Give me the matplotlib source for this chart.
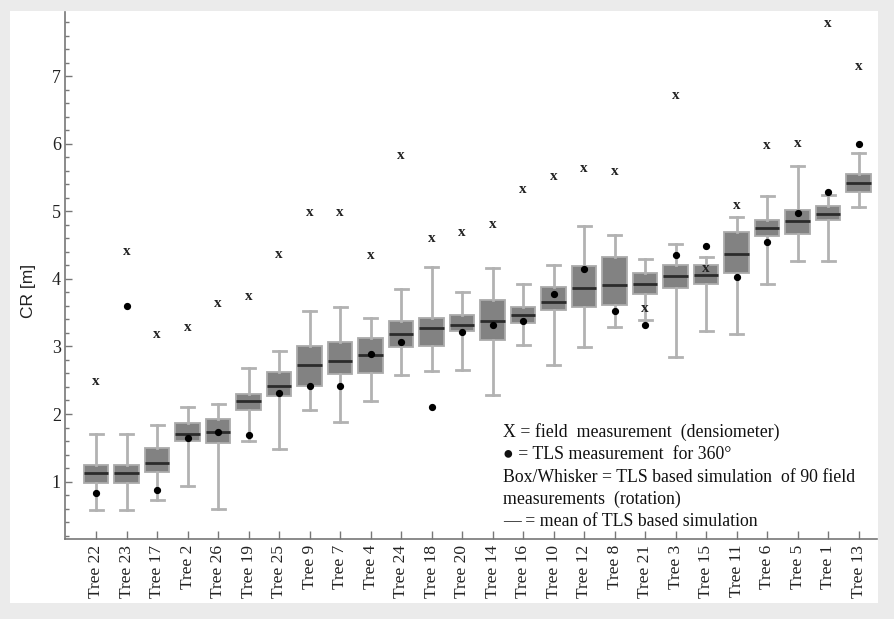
import matplotlib
matplotlib.use("Agg")
import matplotlib.pyplot as plt
from matplotlib.patches import Rectangle
from matplotlib.ticker import MultipleLocator

trees = ["Tree 22", "Tree 23", "Tree 17", "Tree 2", "Tree 26", "Tree 19", "Tree 25",
         "Tree 9", "Tree 7", "Tree 4", "Tree 24", "Tree 18", "Tree 20", "Tree 14",
         "Tree 16", "Tree 10", "Tree 12", "Tree 8", "Tree 21", "Tree 3", "Tree 15",
         "Tree 11", "Tree 6", "Tree 5", "Tree 1", "Tree 13"]
q1 = [0.98, 0.98, 1.14, 1.60, 1.57, 2.06, 2.27, 2.42, 2.59, 2.61, 2.99, 3.01, 3.23,
      3.10, 3.35, 3.54, 3.59, 3.62, 3.77, 3.87, 3.93, 4.09, 4.63, 4.67, 4.87, 5.29]
q3 = [1.25, 1.25, 1.49, 1.87, 1.93, 2.29, 2.62, 3.01, 3.06, 3.13, 3.38, 3.42, 3.46,
      3.69, 3.59, 3.88, 4.19, 4.33, 4.08, 4.20, 4.20, 4.69, 4.87, 5.02, 5.08, 5.55]
sim_mean = [1.12, 1.12, 1.28, 1.71, 1.74, 2.19, 2.42, 2.73, 2.78, 2.87, 3.18, 3.28, 3.32,
            3.37, 3.46, 3.66, 3.87, 3.91, 3.92, 4.04, 4.05, 4.37, 4.75, 4.86, 4.96, 5.42]
whis_lo = [0.58, 0.58, 0.72, 0.93, 0.60, 1.60, 1.48, 2.06, 1.88, 2.19, 2.58, 2.63, 2.65,
           2.28, 3.02, 2.72, 2.99, 3.29, 3.39, 2.85, 3.23, 3.18, 3.92, 4.27, 4.27, 5.06]
whis_hi = [1.71, 1.71, 1.84, 2.11, 2.15, 2.68, 2.93, 3.53, 3.59, 3.42, 3.85, 4.18, 3.80,
           4.16, 3.92, 4.20, 4.79, 4.65, 4.29, 4.51, 4.32, 4.92, 5.22, 5.67, 5.24, 5.87]
tls_360 = [0.83, 3.60, 0.87, 1.64, 1.73, 1.69, 2.31, 2.42, 2.41, 2.89, 3.06, 2.10, 3.22,
           3.31, 3.37, 3.77, 4.15, 3.53, 3.31, 4.36, 4.48, 4.03, 4.55, 4.97, 5.28, 5.99]
field = [2.48, 4.41, 3.18, 3.28, 3.64, 3.74, 4.36, 4.98, 4.98, 4.34, 5.83, 4.60, 4.69,
         4.81, 5.32, 5.52, 5.63, 5.59, 3.56, 6.72, 4.15, 5.09, 5.97, 6.00, 7.78, 7.14]

legend_lines = ["X = field  measurement  (densiometer)",
                "\u25cf = TLS measurement  for 360\u00b0",
                "Box/Whisker = TLS based simulation  of 90 field",
                "measurements  (rotation)",
                "\u2014 = mean of TLS based simulation"]

serif = ["Liberation Serif", "DejaVu Serif"]

fig = plt.figure(figsize=(8.95, 6.19), dpi=100)
fig.patch.set_facecolor("#ebebeb")
fig.add_artist(Rectangle((10 / 895, 1 - 603 / 619), 868 / 895, 592 / 619,
                         transform=fig.transFigure, facecolor="white",
                         edgecolor="none", zorder=0))

ax = fig.add_axes([65 / 895, 1 - 539 / 619, 812 / 895, 527 / 619])
ax.set_facecolor("none")

pos = list(range(len(trees)))
stats = []
for i in pos:
    stats.append(dict(med=sim_mean[i], q1=q1[i], q3=q3[i],
                      whislo=whis_lo[i], whishi=whis_hi[i], fliers=[]))

ax.bxp(stats, positions=pos, widths=0.8, patch_artist=True, showfliers=False,
       capwidths=0.42,
       boxprops=dict(facecolor="#828282", edgecolor="#ababab", linewidth=1.3),
       medianprops=dict(color="#2b2b2b", linewidth=2.0),
       whiskerprops=dict(color="#b2b2b2", linewidth=2.0),
       capprops=dict(color="#b2b2b2", linewidth=2.0))

ax.plot(pos, tls_360, linestyle="none", marker="o", markersize=4.2,
        color="black", zorder=5)
for i in pos:
    ax.text(i, field[i], "x", ha="center", va="center", fontsize=11,
            family=serif, fontweight="bold", color="#222222", zorder=5)

ax.set_xlim(-1.02, 25.6)
ax.set_ylim(0.15, 7.95)
ax.set_xticks(pos)
ax.set_xticklabels(trees, rotation=90, family=serif, fontsize=12.5, color="#222222")
ax.yaxis.set_major_locator(MultipleLocator(1))
ax.yaxis.set_minor_locator(MultipleLocator(0.2))
ax.set_yticks([1, 2, 3, 4, 5, 6, 7])
ax.set_yticklabels(["1", "2", "3", "4", "5", "6", "7"], family=serif, fontsize=13,
                   color="#222222")
ax.tick_params(axis="both", which="both", direction="in", color="#777777")
ax.tick_params(axis="y", which="major", length=5, width=1, pad=3)
ax.tick_params(axis="y", which="minor", length=3, width=1)
ax.tick_params(axis="x", which="major", length=6, width=1, pad=4)
for s in ["top", "right"]:
    ax.spines[s].set_visible(False)
for s in ["left", "bottom"]:
    ax.spines[s].set_color("#777777")
    ax.spines[s].set_linewidth(1.2)

ax.set_ylabel("CR [m]", family=["Liberation Sans", "DejaVu Sans"], fontsize=12.5,
              color="#222222")
ax.yaxis.set_label_coords(-0.036, 0.47)

y0 = 432
for k, line in enumerate(legend_lines):
    fig.text(503 / 895, 1 - (y0 + 22.5 * k) / 619, line, ha="left", va="center",
             family=serif, fontsize=12.8, color="#111111")

fig.savefig("out.png", dpi=100, facecolor=fig.get_facecolor())
